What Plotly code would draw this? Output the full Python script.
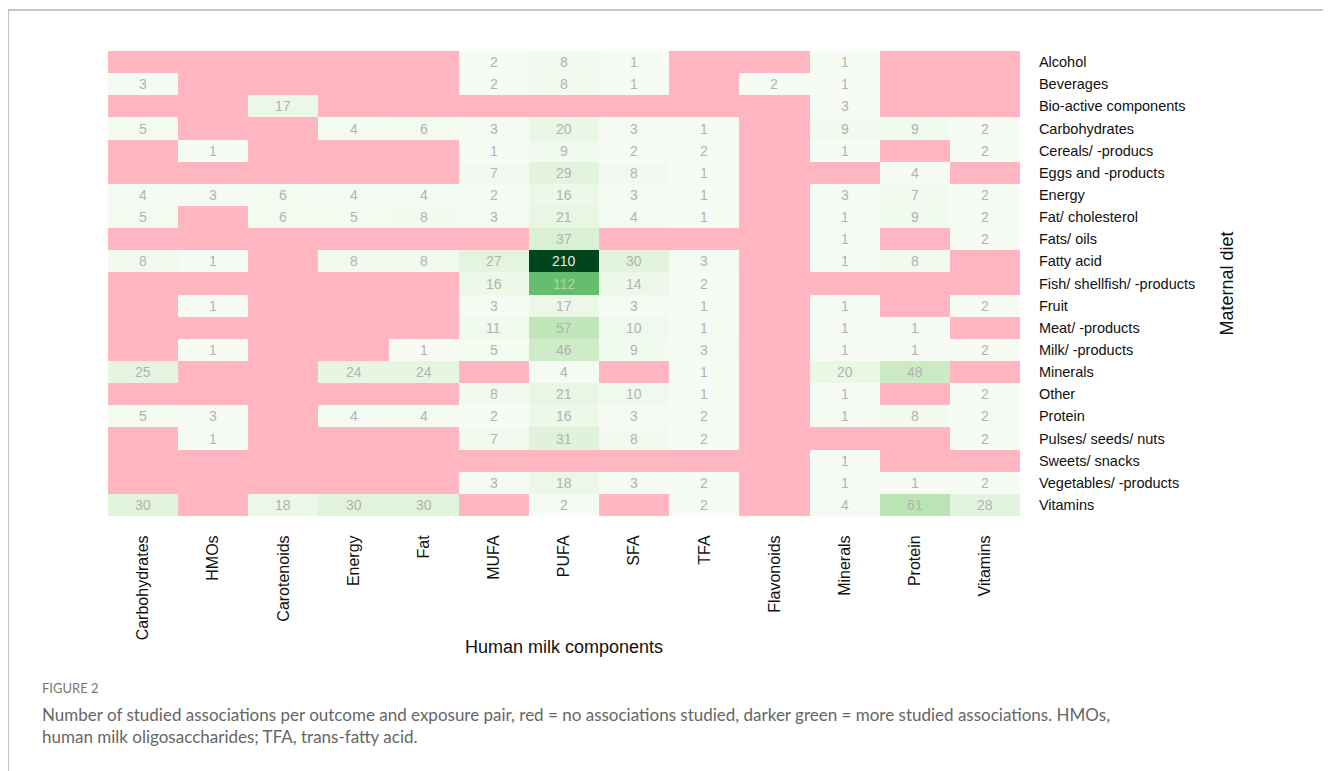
import plotly.graph_objects as go

components = ["Carbohydrates", "HMOs", "Carotenoids", "Energy", "Fat", "MUFA", "PUFA",
              "SFA", "TFA", "Flavonoids", "Minerals", "Protein", "Vitamins"]

diet = ["Alcohol", "Beverages", "Bio-active components", "Carbohydrates", "Cereals/ -producs",
        "Eggs and -products", "Energy", "Fat/ cholesterol", "Fats/ oils", "Fatty acid",
        "Fish/ shellfish/ -products", "Fruit", "Meat/ -products", "Milk/ -products", "Minerals",
        "Other", "Protein", "Pulses/ seeds/ nuts", "Sweets/ snacks", "Vegetables/ -products",
        "Vitamins"]

N = None
# rows = maternal diet, columns = human milk components; None = no associations studied
counts = [
    [N, N, N, N, N, 2, 8, 1, N, N, 1, N, N],        # Alcohol
    [3, N, N, N, N, 2, 8, 1, N, 2, 1, N, N],        # Beverages
    [N, N, 17, N, N, N, N, N, N, N, 3, N, N],       # Bio-active components
    [5, N, N, 4, 6, 3, 20, 3, 1, N, 9, 9, 2],       # Carbohydrates
    [N, 1, N, N, N, 1, 9, 2, 2, N, 1, N, 2],        # Cereals
    [N, N, N, N, N, 7, 29, 8, 1, N, N, 4, N],       # Eggs
    [4, 3, 6, 4, 4, 2, 16, 3, 1, N, 3, 7, 2],       # Energy
    [5, N, 6, 5, 8, 3, 21, 4, 1, N, 1, 9, 2],       # Fat/ cholesterol
    [N, N, N, N, N, N, 37, N, N, N, 1, N, 2],       # Fats/ oils
    [8, 1, N, 8, 8, 27, 210, 30, 3, N, 1, 8, N],    # Fatty acid
    [N, N, N, N, N, 16, 112, 14, 2, N, N, N, N],    # Fish
    [N, 1, N, N, N, 3, 17, 3, 1, N, 1, N, 2],       # Fruit
    [N, N, N, N, N, 11, 57, 10, 1, N, 1, 1, N],     # Meat
    [N, 1, N, N, 1, 5, 46, 9, 3, N, 1, 1, 2],       # Milk
    [25, N, N, 24, 24, N, 4, N, 1, N, 20, 48, N],   # Minerals
    [N, N, N, N, N, 8, 21, 10, 1, N, 1, N, 2],      # Other
    [5, 3, N, 4, 4, 2, 16, 3, 2, N, 1, 8, 2],       # Protein
    [N, 1, N, N, N, 7, 31, 8, 2, N, N, N, 2],       # Pulses
    [N, N, N, N, N, N, N, N, N, N, 1, N, N],        # Sweets
    [N, N, N, N, N, 3, 18, 3, 2, N, 1, 1, 2],       # Vegetables
    [30, N, 18, 30, 30, N, 2, N, 2, N, 4, 61, 28],  # Vitamins
]

figure_label = "FIGURE 2"
caption = ("Number of studied associations per outcome and exposure pair, red = no associations studied, "
           "darker green = more studied associations. HMOs,<br>human milk oligosaccharides; TFA, trans-fatty acid.")

FONT = "Arial, 'Liberation Sans', sans-serif"
CAP_FONT = "Lato, 'Open Sans', sans-serif"
PINK = "#FFB6C1"

fig = go.Figure()
fig.add_trace(go.Heatmap(
    z=counts, x=components, y=diet,
    colorscale="Greens", zmin=0, zmax=210,
    showscale=False, hoverongaps=False, xgap=0, ygap=0,
))

annotations = []
for i, row in enumerate(counts):
    for j, v in enumerate(row):
        if v is None:
            continue
        if v > 150:
            col = "#ececec"
        elif v > 90:
            col = "#a6d6a6"
        else:
            col = "#b2b2b2"
        annotations.append(dict(x=components[j], y=diet[i], text=str(v), showarrow=False,
                                font=dict(family=FONT, size=14, color=col)))

# plot area on screen: x 108..1020, y 51..516
def px(x):
    return (x - 108) / 912

def py(y):
    return (516 - y) / 465

annotations.append(dict(text="Human milk components", xref="paper", yref="paper",
                        x=0.5, y=py(647), xanchor="center", yanchor="middle",
                        showarrow=False, font=dict(family=FONT, size=18, color="#111")))
annotations.append(dict(text="Maternal diet", xref="paper", yref="paper",
                        x=px(1226), y=0.5, xanchor="center", yanchor="middle",
                        textangle=-90, showarrow=False, font=dict(family=FONT, size=18, color="#111")))
annotations.append(dict(text=figure_label, xref="paper", yref="paper",
                        x=px(40), y=py(688), xanchor="left", yanchor="middle",
                        showarrow=False, font=dict(family=CAP_FONT, size=13, color="#777")))
annotations.append(dict(text=caption, xref="paper", yref="paper", align="left",
                        x=px(40), y=py(725), xanchor="left", yanchor="middle",
                        showarrow=False, font=dict(family=CAP_FONT, size=17, color="#666")))

shapes = [
    dict(type="line", xref="paper", yref="paper", x0=px(8), x1=px(1345),
         y0=py(10), y1=py(10), line=dict(color="#b4b4b4", width=1.5)),
    dict(type="line", xref="paper", yref="paper", x0=px(8), x1=px(8),
         y0=py(10), y1=py(790), line=dict(color="#b4b4b4", width=1.5)),
]

fig.update_layout(
    width=1331, height=771, autosize=False,
    margin=dict(l=100, r=319, t=43, b=263),
    paper_bgcolor="white", plot_bgcolor=PINK,
    font=dict(family=FONT, color="#111"),
    annotations=annotations, shapes=shapes,
    xaxis=dict(type="category", tickangle=-90, showgrid=False, zeroline=False,
               ticks="outside", ticklen=12, tickcolor="white",
               tickfont=dict(family=FONT, size=16, color="#111")),
    yaxis=dict(type="category", autorange="reversed", side="right", showgrid=False, zeroline=False,
               ticks="outside", ticklen=15, tickcolor="white",
               tickfont=dict(family=FONT, size=14.5, color="#111")),
)

fig.write_html("out.html")
